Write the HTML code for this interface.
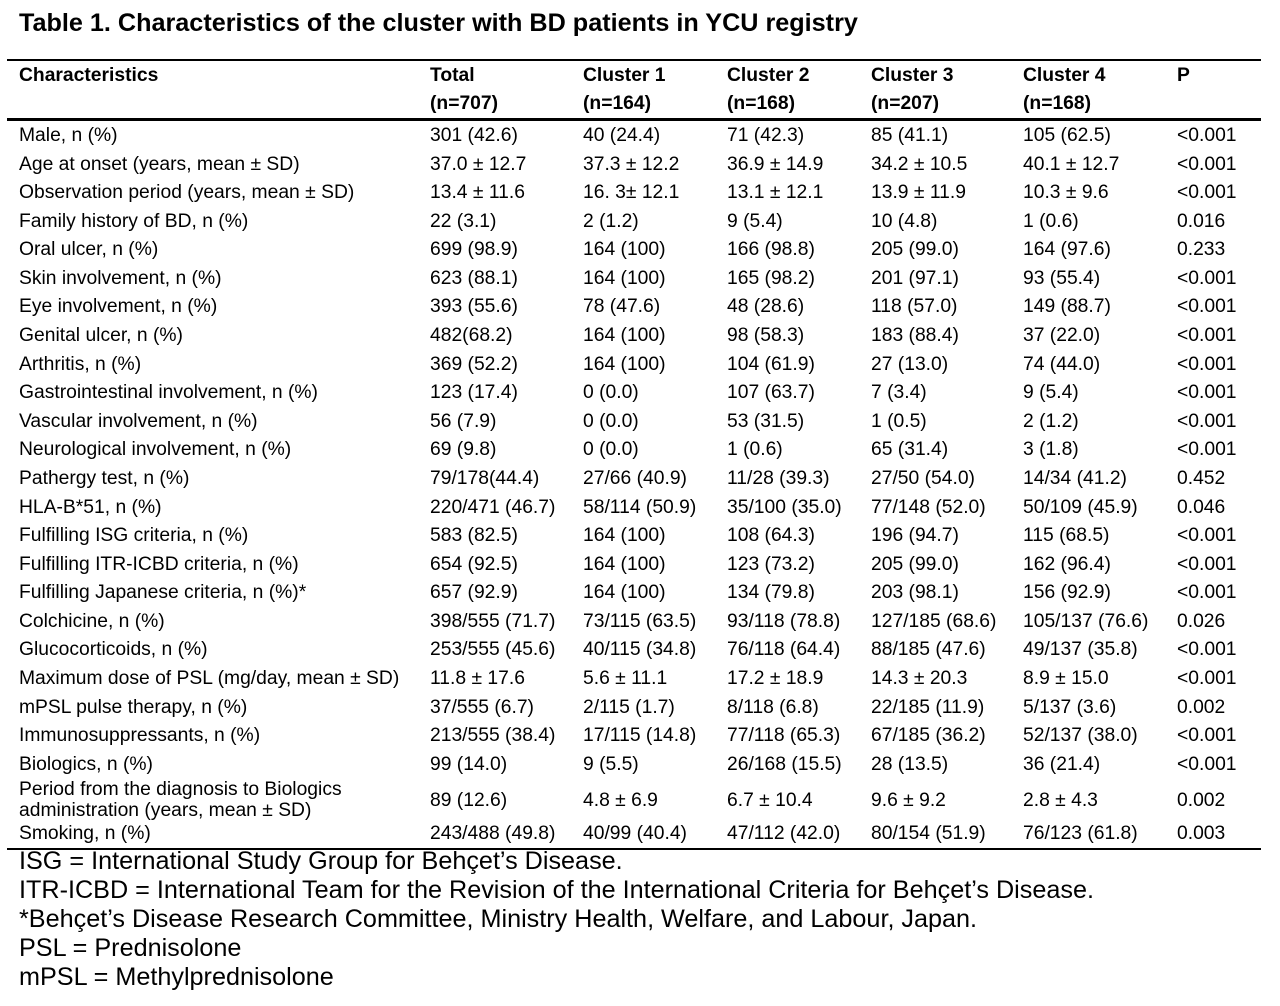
<!DOCTYPE html>
<html><head><meta charset="utf-8"><style>
body{margin:0;width:1280px;height:1006px;background:#fff;position:relative;font-family:"Liberation Sans",Arial,sans-serif;color:#000;overflow:hidden}
.t{position:absolute;white-space:nowrap;font-size:19.3px;line-height:20px}
.b{font-weight:bold}
.line{position:absolute;left:7px;width:1254px;background:#000}
.fn{position:absolute;left:19px;font-size:25.2px;line-height:28px;white-space:nowrap}
</style></head><body>
<div class="t b" style="left:19px;top:9px;font-size:25.2px;line-height:28px">Table 1. Characteristics of the cluster with BD patients in YCU registry</div>
<div class="line" style="top:59px;height:2px"></div>
<div class="line" style="top:118px;height:3px"></div>
<div class="line" style="top:848px;height:2px"></div>
<div id="tbl"></div>
<div class="fn" style="top:847px">ISG = International Study Group for Behçet’s Disease.</div>
<div class="fn" style="top:876px">ITR-ICBD = International Team for the Revision of the International Criteria for Behçet’s Disease.</div>
<div class="fn" style="top:905px">*Behçet’s Disease Research Committee, Ministry Health, Welfare, and Labour, Japan.</div>
<div class="fn" style="top:934px">PSL = Prednisolone</div>
<div class="fn" style="top:963px">mPSL = Methylprednisolone</div>
<script>
const colX=[19,430,583,727,871,1023,1177];
const header1=["Characteristics","Total","Cluster 1","Cluster 2","Cluster 3","Cluster 4","P"];
const header2=["","(n=707)","(n=164)","(n=168)","(n=207)","(n=168)",""];
const rows=[
["Male, n (%)","301 (42.6)","40 (24.4)","71 (42.3)","85 (41.1)","105 (62.5)","<0.001"],
["Age at onset (years, mean ± SD)","37.0 ± 12.7","37.3 ± 12.2","36.9 ± 14.9","34.2 ± 10.5","40.1 ± 12.7","<0.001"],
["Observation period (years, mean ± SD)","13.4 ± 11.6","16. 3± 12.1","13.1 ± 12.1","13.9 ± 11.9","10.3 ± 9.6","<0.001"],
["Family history of BD, n (%)","22 (3.1)","2 (1.2)","9 (5.4)","10 (4.8)","1 (0.6)","0.016"],
["Oral ulcer, n (%)","699 (98.9)","164 (100)","166 (98.8)","205 (99.0)","164 (97.6)","0.233"],
["Skin involvement, n (%)","623 (88.1)","164 (100)","165 (98.2)","201 (97.1)","93 (55.4)","<0.001"],
["Eye involvement, n (%)","393 (55.6)","78 (47.6)","48 (28.6)","118 (57.0)","149 (88.7)","<0.001"],
["Genital ulcer, n (%)","482(68.2)","164 (100)","98 (58.3)","183 (88.4)","37 (22.0)","<0.001"],
["Arthritis, n (%)","369 (52.2)","164 (100)","104 (61.9)","27 (13.0)","74 (44.0)","<0.001"],
["Gastrointestinal involvement, n (%)","123 (17.4)","0 (0.0)","107 (63.7)","7 (3.4)","9 (5.4)","<0.001"],
["Vascular involvement, n (%)","56 (7.9)","0 (0.0)","53 (31.5)","1 (0.5)","2 (1.2)","<0.001"],
["Neurological involvement, n (%)","69 (9.8)","0 (0.0)","1 (0.6)","65 (31.4)","3 (1.8)","<0.001"],
["Pathergy test, n (%)","79/178(44.4)","27/66 (40.9)","11/28 (39.3)","27/50 (54.0)","14/34 (41.2)","0.452"],
["HLA-B*51, n (%)","220/471 (46.7)","58/114 (50.9)","35/100 (35.0)","77/148 (52.0)","50/109 (45.9)","0.046"],
["Fulfilling ISG criteria, n (%)","583 (82.5)","164 (100)","108 (64.3)","196 (94.7)","115 (68.5)","<0.001"],
["Fulfilling ITR-ICBD criteria, n (%)","654 (92.5)","164 (100)","123 (73.2)","205 (99.0)","162 (96.4)","<0.001"],
["Fulfilling Japanese criteria, n (%)*","657 (92.9)","164 (100)","134 (79.8)","203 (98.1)","156 (92.9)","<0.001"],
["Colchicine, n (%)","398/555 (71.7)","73/115 (63.5)","93/118 (78.8)","127/185 (68.6)","105/137 (76.6)","0.026"],
["Glucocorticoids, n (%)","253/555 (45.6)","40/115 (34.8)","76/118 (64.4)","88/185 (47.6)","49/137 (35.8)","<0.001"],
["Maximum dose of PSL (mg/day, mean ± SD)","11.8 ± 17.6","5.6 ± 11.1","17.2 ± 18.9","14.3 ± 20.3","8.9 ± 15.0","<0.001"],
["mPSL pulse therapy, n (%)","37/555 (6.7)","2/115 (1.7)","8/118 (6.8)","22/185 (11.9)","5/137 (3.6)","0.002"],
["Immunosuppressants, n (%)","213/555 (38.4)","17/115 (14.8)","77/118 (65.3)","67/185 (36.2)","52/137 (38.0)","<0.001"],
["Biologics, n (%)","99 (14.0)","9 (5.5)","26/168 (15.5)","28 (13.5)","36 (21.4)","<0.001"],
["Period from the diagnosis to Biologics|administration (years, mean ± SD)","89 (12.6)","4.8 ± 6.9","6.7 ± 10.4","9.6 ± 9.2","2.8 ± 4.3","0.002"],
["Smoking, n (%)","243/488 (49.8)","40/99 (40.4)","47/112 (42.0)","80/154 (51.9)","76/123 (61.8)","0.003"]
];
const rowY=[136,164.5,193,221.5,250,278.5,307,336,364.5,393,421.5,450,479,507.5,536,564.5,593,621.5,650,679,707.5,736,765,801,834];
const tbl=document.getElementById('tbl');
function put(txt,x,cy,bold,name){
  const d=document.createElement('div');
  d.className='t'+(bold?' b':'');
  
  
  d.style.left=x+'px';d.style.top=(cy-10)+'px';
  d.textContent=txt;tbl.appendChild(d);
}
header1.forEach((h,i)=>put(h,colX[i],76,true,'header-cell'));
header2.forEach((h,i)=>{if(h)put(h,colX[i],104,true,'header-n-cell');});
rows.forEach((r,ri)=>{
  r.forEach((c,ci)=>{
    if(c.includes('|')){const p=c.split('|');put(p[0],colX[ci],rowY[ri]-11,false,'row-label');put(p[1],colX[ci],rowY[ri]+10,false,'row-label');}
    else put(c,colX[ci],rowY[ri],false,ci===0?'row-label':'table-cell');
  });
});
</script>
</body></html>
